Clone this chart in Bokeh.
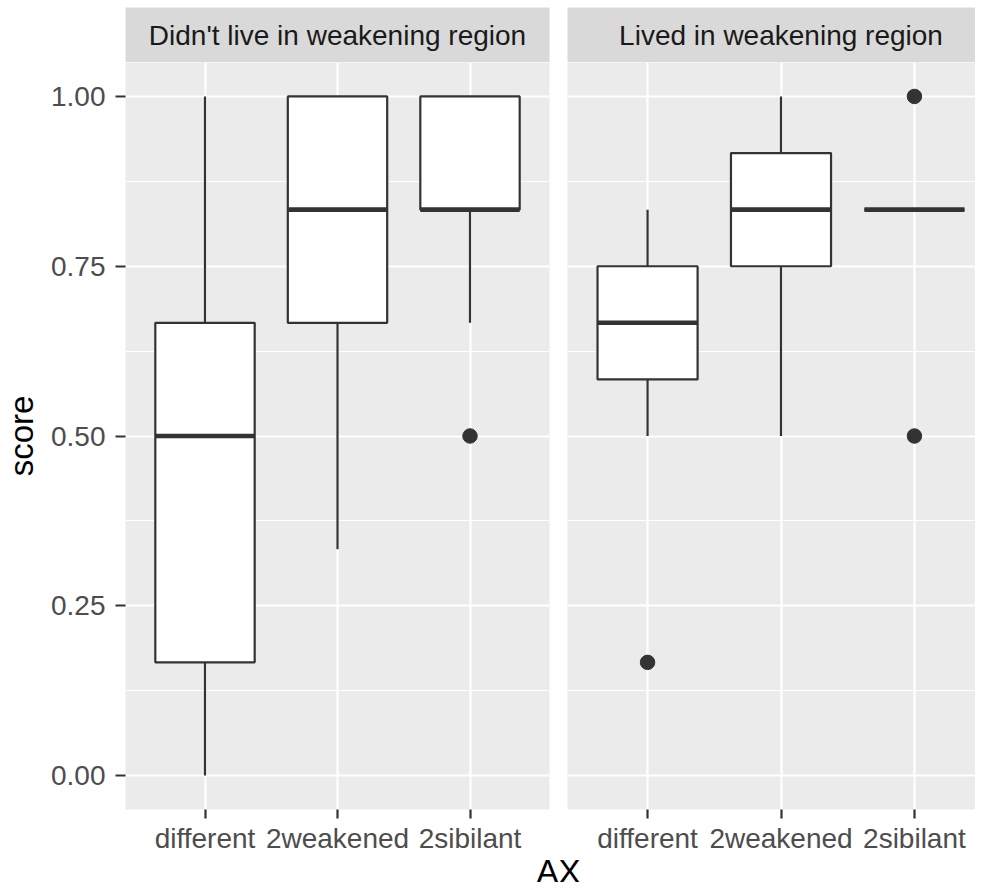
from bokeh.plotting import figure
from bokeh.models import Range1d, FixedTicker, ColumnDataSource, Label
from bokeh.layouts import row, column
from bokeh.embed import file_html
from bokeh.resources import INLINE

# ---------------- data ----------------
categories = ["different", "2weakened", "2sibilant"]
facets = ["Didn't live in weakening region", "Lived in weakening region"]

# facet 1: Didn't live in weakening region
left_lower = [0.0, 1/3, 2/3]
left_q1 = [1/6, 2/3, 5/6]
left_median = [0.5, 5/6, 5/6]
left_q3 = [2/3, 1.0, 1.0]
left_upper = [1.0, 1.0, 1.0]
left_out_cat = ["2sibilant"]
left_out_val = [0.5]

# facet 2: Lived in weakening region
right_lower = [0.5, 0.5, 5/6]
right_q1 = [7/12, 0.75, 5/6]
right_median = [2/3, 5/6, 5/6]
right_q3 = [0.75, 11/12, 5/6]
right_upper = [5/6, 1.0, 5/6]
right_out_cat = ["different", "2sibilant", "2sibilant"]
right_out_val = [1/6, 1.0, 0.5]

y_ticks = [0.0, 0.25, 0.5, 0.75, 1.0]
y_tick_labels = ["0.00", "0.25", "0.50", "0.75", "1.00"]
y_minor = [0.125, 0.375, 0.625, 0.875]

# ---------------- style ----------------
FONT = "Liberation Sans"
TICK_SIZE = "28px"
TITLE_SIZE = "33px"
DARK = "#333333"
BOX_W = 0.75
FRAME_W = 427                  # full facet width in px
UNIT_PX = FRAME_W / 3.2        # px per category unit
PANEL_H = 747 + 47
xpos = {c: i + 1 for i, c in enumerate(categories)}
x_ticks = [xpos[c] for c in categories]


def make_panel(width, mb_left, mb_right, x_end, stats, outs, show_y):
    lower, q1, med, q3, upper = stats
    p = figure(width=width, height=PANEL_H,
               x_range=Range1d(0.4, x_end), y_range=Range1d(-0.05, 1.05),
               output_backend="svg", toolbar_location=None,
               min_border_left=mb_left, min_border_right=mb_right,
               min_border_top=0, min_border_bottom=47,
               y_axis_location="left" if show_y else None,
               background_fill_color="#EBEBEB", border_fill_color="white",
               outline_line_color=None)
    # grids
    p.xgrid.ticker = FixedTicker(ticks=x_ticks)
    p.ygrid.ticker = FixedTicker(ticks=y_ticks, minor_ticks=y_minor)
    p.grid.grid_line_color = "white"
    p.grid.grid_line_width = 2.2
    p.ygrid.minor_grid_line_color = "white"
    p.ygrid.minor_grid_line_width = 1.1
    # x axis
    xa = p.xaxis[0]
    xa.ticker = FixedTicker(ticks=x_ticks)
    xa.major_label_overrides = {xpos[c]: c for c in categories}
    xa.axis_line_color = None
    xa.major_tick_in = 0
    xa.major_tick_out = 9
    xa.major_tick_line_color = DARK
    xa.major_tick_line_width = 2.2
    xa.minor_tick_line_color = None
    xa.major_label_standoff = 4
    xa.major_label_text_font = FONT
    xa.major_label_text_font_size = TICK_SIZE
    xa.major_label_text_color = "#4D4D4D"
    if show_y:
        ya = p.yaxis[0]
        ya.ticker = FixedTicker(ticks=y_ticks, minor_ticks=y_minor)
        ya.major_label_overrides = dict(zip(y_ticks, y_tick_labels))
        ya.axis_line_color = None
        ya.major_tick_in = 0
        ya.major_tick_out = 10
        ya.major_tick_line_color = DARK
        ya.major_tick_line_width = 2.2
        ya.minor_tick_line_color = None
        ya.major_label_standoff = 10
        ya.major_label_text_font = FONT
        ya.major_label_text_font_size = TICK_SIZE
        ya.major_label_text_color = "#4D4D4D"
        ya.axis_label = "score"
        ya.axis_label_text_font = FONT
        ya.axis_label_text_font_size = TITLE_SIZE
        ya.axis_label_text_font_style = "normal"
        ya.axis_label_text_color = "black"
        ya.axis_label_standoff = 8

    xs = x_ticks
    src = ColumnDataSource(dict(
        x=xs, x0=[x - BOX_W / 2 for x in xs], x1=[x + BOX_W / 2 for x in xs],
        lower=lower, q1=q1, med=med, q3=q3, upper=upper))
    p.segment(x0="x", y0="q3", x1="x", y1="upper", source=src,
              line_color=DARK, line_width=2.2)
    p.segment(x0="x", y0="lower", x1="x", y1="q1", source=src,
              line_color=DARK, line_width=2.2)
    p.vbar(x="x", width=BOX_W, top="q3", bottom="q1", source=src,
           fill_color="white", line_color=DARK, line_width=2.2)
    p.segment(x0="x0", y0="med", x1="x1", y1="med", source=src,
              line_color=DARK, line_width=4.6)
    oc, ov = outs
    osrc = ColumnDataSource(dict(x=[xpos[c] for c in oc], y=ov))
    p.scatter(x="x", y="y", source=osrc, size=14.5, color=DARK)
    return p


def make_strip(width, mb_left, mb_right, x_range, text):
    s = figure(width=width, height=62, x_range=x_range, y_range=Range1d(0, 1),
               output_backend="svg", toolbar_location=None,
               min_border_left=mb_left, min_border_right=mb_right,
               min_border_top=7, min_border_bottom=0,
               x_axis_location=None, y_axis_location=None,
               background_fill_color="#D9D9D9", border_fill_color="white",
               outline_line_color=None)
    s.grid.visible = False
    s.add_layout(Label(x=(0.4 + 3.6) / 2, y=0.5, text=text, text_align="center",
                       text_baseline="middle", text_font=FONT,
                       text_font_size=TICK_SIZE, text_color="#1A1A1A"))
    return s


LEFT_W = 122 + FRAME_W + 9          # 558
RIGHT_W = 975 - LEFT_W              # 417
left_end = 3.6
right_end = 0.4 + (RIGHT_W - 9) / UNIT_PX

p1 = make_panel(LEFT_W, 122, 9, left_end,
                (left_lower, left_q1, left_median, left_q3, left_upper),
                (left_out_cat, left_out_val), True)
p2 = make_panel(RIGHT_W, 9, 0, right_end,
                (right_lower, right_q1, right_median, right_q3, right_upper),
                (right_out_cat, right_out_val), False)
s1 = make_strip(LEFT_W, 122, 9, p1.x_range, facets[0])
s2 = make_strip(RIGHT_W, 9, 0, p2.x_range, facets[1])

AX_H = 882 - 62 - PANEL_H
ax_center = (122 + (LEFT_W + 9 + FRAME_W)) / 2     # centre of both full facets
ax = figure(width=975, height=AX_H, x_range=Range1d(0, 975), y_range=Range1d(0, AX_H),
            output_backend="svg", toolbar_location=None,
            min_border_left=0, min_border_right=0, min_border_top=0, min_border_bottom=0,
            x_axis_location=None, y_axis_location=None,
            background_fill_color="white", border_fill_color="white",
            outline_line_color=None)
ax.grid.visible = False
ax.add_layout(Label(x=ax_center, y=11, text="AX", text_align="center",
                    text_baseline="alphabetic", text_font=FONT,
                    text_font_size=TITLE_SIZE, text_color="black"))

layout = column(row(column(s1, p1), column(s2, p2)), ax)

open("out.html", "w").write(file_html(layout, INLINE))
